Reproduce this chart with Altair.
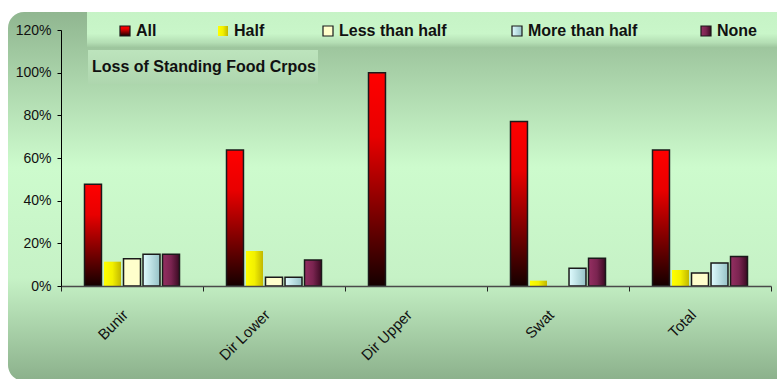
import altair as alt
import pandas as pd

# Share of households reporting loss of standing food crops, by district
regions = ["Bunir", "Dir Lower", "Dir Upper", "Swat", "Total"]
series = ["All", "Half", "Less than half", "More than half", "None"]

all_vals = [0.477, 0.638, 1.000, 0.771, 0.638]
half_vals = [0.114, 0.164, 0.000, 0.025, 0.075]
less_vals = [0.128, 0.041, 0.000, 0.000, 0.061]
more_vals = [0.149, 0.041, 0.000, 0.083, 0.108]
none_vals = [0.149, 0.122, 0.000, 0.130, 0.138]

y_ticks = [0, 0.2, 0.4, 0.6, 0.8, 1.0, 1.2]
title_text = "Loss of Standing Food Crpos"

values_by_series = {
    "All": all_vals,
    "Half": half_vals,
    "Less than half": less_vals,
    "More than half": more_vals,
    "None": none_vals,
}

rows = []
for s, vals in values_by_series.items():
    for r, v in zip(regions, vals):
        rows.append({"region": r, "series": s, "value": v})
df = pd.DataFrame(rows)


def grad(stops, vertical=False):
    return alt.LinearGradient(
        gradient="linear",
        stops=[alt.GradientStop(offset=o, color=c) for o, c in stops],
        x1=0, y1=0,
        x2=0 if vertical else 1,
        y2=1 if vertical else 0,
    )


FONT = "Liberation Sans"
EDGE = "#1a1a1a"

# fill and outline for each series
styles = {
    "All": dict(fill=grad([(0, "#ff0000"), (0.3, "#e80000"), (0.7, "#700000"), (1, "#150000")], vertical=True),
                stroke=EDGE, strokeWidth=1.5),
    "Half": dict(fill=grad([(0, "#ffff00"), (0.5, "#f2f000"), (1, "#c2b800")])),
    "Less than half": dict(fill="#ffffcc", stroke=EDGE, strokeWidth=1.5),
    "More than half": dict(fill=grad([(0, "#e0fcff"), (1, "#96c2c6")]),
                           stroke=EDGE, strokeWidth=1.5),
    "None": dict(fill=grad([(0, "#952f62"), (0.5, "#7a2450"), (1, "#3a0a22")]),
                 stroke=EDGE, strokeWidth=1.5),
}

legend_x = [59, 157, 262, 451, 640]  # legend swatch positions in plot pixels

one = alt.Data(values=[{}])

# backdrop: rounded panel with vertical green shading
panel = alt.Chart(one).mark_rect(
    cornerRadius=16,
    fill=grad([(0, "#90b690"), (0.42, "#cdfbcd"), (0.72, "#c6f2c6"), (1, "#8bb08b")], vertical=True),
).encode(x=alt.value(-53), x2=alt.value(740), y=alt.value(-18), y2=alt.value(351))

legend_band = alt.Chart(one).mark_rect(
    fill=grad([(0, "#c6f3c6"), (0.6, "#c9f6c9"), (0.85, "#b4deb4"), (1, "#9cc49c")], vertical=True),
).encode(x=alt.value(26), x2=alt.value(740), y=alt.value(-18), y2=alt.value(18))

title_box = alt.Chart(one).mark_rect(
    fill=grad([(0, "#bde4bd"), (1, "#aed6ae")], vertical=True),
).encode(x=alt.value(27), x2=alt.value(257), y=alt.value(20), y2=alt.value(54))

title = alt.Chart(one).mark_text(
    text=title_text, font=FONT, fontSize=16, fontWeight="bold",
    align="left", baseline="middle", color="#111111",
).encode(x=alt.value(31), y=alt.value(37))

x_enc = alt.X(
    "region:N",
    sort=regions,
    scale=alt.Scale(domain=regions, paddingInner=0, paddingOuter=0),
    axis=alt.Axis(
        title=None, labelAngle=-45, labelFont=FONT, labelFontSize=15,
        labelColor="#111111", labelPadding=16, labelOffset=-12,
        tickBand="extent",
        domainColor="#4a4a4a", domainWidth=1.5, tickColor="#222222",
        tickSize=5, zindex=1,
    ),
)
# bars of one district sit in the middle two thirds of its category band
xo_enc = alt.XOffset(
    "series:N",
    scale=alt.Scale(domain=series, paddingInner=0.13, paddingOuter=0, range=[23.5, 118.5]),
)
y_enc = alt.Y(
    "value:Q",
    scale=alt.Scale(domain=[0, 1.2], nice=False),
    axis=alt.Axis(
        title=None, values=y_ticks, format=".0%", labelFont=FONT,
        labelFontSize=14, labelColor="#111111", labelPadding=6,
        grid=False, domainColor="#000000", tickColor="#000000",
        tickSize=4, zindex=1,
    ),
)

layers = [panel, legend_band, title_box, title]

for i, s in enumerate(series):
    st = styles[s]
    bars = (
        alt.Chart(df)
        .transform_filter((alt.datum.series == s) & (alt.datum.value > 0))
        .mark_bar(**st)
        .encode(x=x_enc, xOffset=xo_enc, y=y_enc)
    )
    swatch = alt.Chart(one).mark_rect(**{k: v for k, v in st.items() if k != "strokeWidth"},
                                      strokeWidth=1.2 if "stroke" in st else 0).encode(
        x=alt.value(legend_x[i]), x2=alt.value(legend_x[i] + 10),
        y=alt.value(-4), y2=alt.value(6),
    )
    label = alt.Chart(one).mark_text(
        text=s, font=FONT, fontSize=16, fontWeight="bold",
        align="left", baseline="middle", color="#111111",
    ).encode(x=alt.value(legend_x[i] + 16), y=alt.value(0.5))
    layers += [bars, swatch, label]

chart = (
    alt.layer(*layers)
    .properties(
        width=710, height=256,
        autosize=alt.AutoSizeParams(type="none"),
        padding={"left": 61, "top": 30, "right": 6, "bottom": 93},
        background="white",
    )
    .configure_view(stroke=None)
)

chart.save("out.html", embed_options={"renderer": "svg", "actions": False})
